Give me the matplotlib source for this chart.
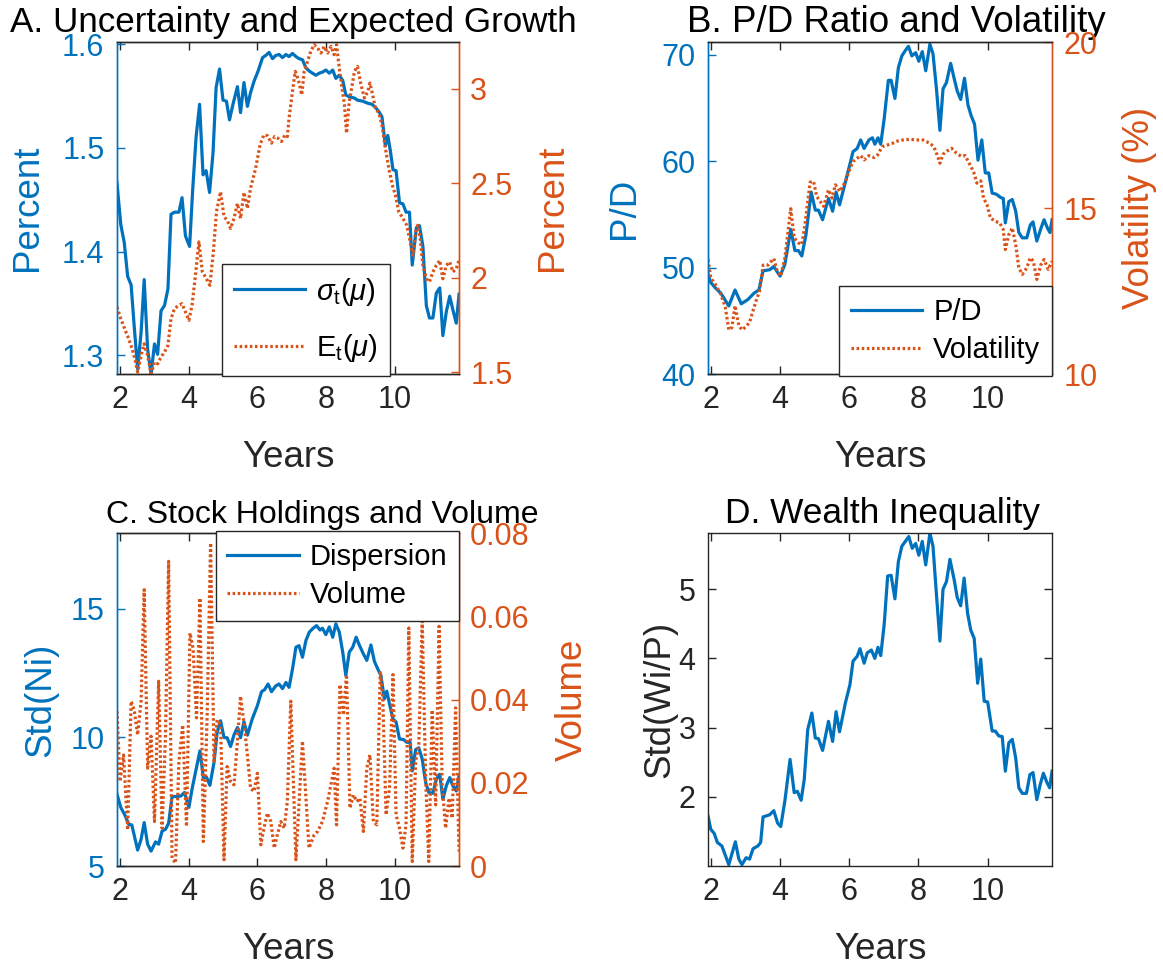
import matplotlib
matplotlib.use('Agg')
import matplotlib.pyplot as plt
from matplotlib.ticker import FuncFormatter

plt.rcParams['font.family'] = ['Liberation Sans', 'DejaVu Sans']
plt.rcParams['mathtext.fontset'] = 'custom'
plt.rcParams['mathtext.rm'] = 'Liberation Sans'
plt.rcParams['mathtext.it'] = 'Liberation Sans:italic'

BLUE = '#0072BD'
RED = '#D95319'
DARK = '#262626'
TICK = 22
LAB = 26.5

# ---- A. uncertainty (sigma) and expected growth ----
a_sig_years = [1.92, 2.03, 2.13, 2.23, 2.33, 2.42, 2.52, 2.62, 2.71, 2.81, 2.91, 3.01, 3.10, 3.20, 3.30,
               3.40, 3.49, 3.59, 3.72, 3.81, 3.91, 4.03, 4.12, 4.22, 4.32, 4.42, 4.51, 4.61, 4.71, 4.80,
               4.90, 5.00, 5.10, 5.19, 5.29, 5.42, 5.51, 5.61, 5.71, 5.80, 5.90, 6.02, 6.15, 6.24, 6.34,
               6.44, 6.53, 6.63, 6.73, 6.83, 6.92,
               7.02, 7.12, 7.21, 7.31, 7.41, 7.51, 7.60, 7.70, 7.80, 7.89, 7.99, 8.09, 8.19, 8.28, 8.38,
               8.48, 8.57, 8.69, 8.82, 8.91, 9.06, 9.21, 9.33, 9.43, 9.53, 9.62, 9.72, 9.79, 9.86, 9.94,
               10.03, 10.13, 10.23, 10.32, 10.42, 10.50, 10.62, 10.71, 10.81, 10.91, 11.00, 11.10, 11.20,
               11.30, 11.39, 11.49, 11.59, 11.68, 11.78, 11.86]
a_sigma = [1.466, 1.426, 1.409, 1.376, 1.368, 1.328, 1.287, 1.322, 1.373, 1.306, 1.282, 1.311, 1.301, 1.343,
           1.348, 1.364, 1.436, 1.438, 1.438, 1.452, 1.415, 1.405, 1.460, 1.511, 1.542, 1.474, 1.478, 1.457,
           1.495, 1.558, 1.576, 1.546, 1.545, 1.527, 1.542, 1.559, 1.534, 1.563, 1.540, 1.553, 1.564, 1.574,
           1.587, 1.589, 1.592, 1.586, 1.589, 1.590, 1.587, 1.590, 1.588,
           1.591, 1.588, 1.586, 1.585, 1.577, 1.574, 1.572, 1.570, 1.572, 1.573, 1.575, 1.572, 1.575, 1.567,
           1.570, 1.565, 1.551, 1.549, 1.548, 1.546, 1.545, 1.543, 1.542, 1.539, 1.535, 1.530, 1.502, 1.512,
           1.498, 1.479, 1.478, 1.447, 1.446, 1.438, 1.438, 1.387, 1.423, 1.425, 1.405, 1.348, 1.336, 1.336,
           1.360, 1.365, 1.319, 1.342, 1.357, 1.344, 1.331, 1.359]
a_mu_years = [1.92, 2.03, 2.16, 2.26, 2.36, 2.45, 2.52, 2.62, 2.71, 2.81, 2.91, 3.01, 3.10, 3.20, 3.30,
              3.40, 3.49, 3.59, 3.72, 3.81, 3.91, 4.01, 4.10, 4.20, 4.30, 4.40, 4.49, 4.62, 4.72, 4.81,
              4.93, 5.03, 5.12, 5.22, 5.32, 5.42, 5.51, 5.61, 5.71, 5.80, 5.95, 6.08, 6.19, 6.29, 6.41,
              6.50, 6.60, 6.70, 6.80, 6.87,
              6.92, 7.02, 7.10, 7.19, 7.29, 7.36, 7.46, 7.55, 7.65, 7.75, 7.85, 7.94, 8.04, 8.14, 8.23,
              8.30, 8.38, 8.46, 8.53, 8.59, 8.67, 8.74, 8.82, 8.91, 9.01, 9.11, 9.21, 9.27, 9.35, 9.43,
              9.53, 9.62, 9.72, 9.82, 9.92, 10.01, 10.11, 10.23, 10.34, 10.44, 10.52, 10.60, 10.66, 10.73,
              10.81, 10.91, 11.00, 11.10, 11.20, 11.30, 11.39, 11.49, 11.59, 11.68, 11.78, 11.86]
a_mu = [1.845, 1.783, 1.721, 1.677, 1.624, 1.562, 1.500, 1.588, 1.650, 1.588, 1.491, 1.553, 1.544, 1.580,
        1.606, 1.641, 1.783, 1.836, 1.854, 1.862, 1.818, 1.774, 1.854, 2.012, 2.189, 2.031, 2.004, 1.959,
        2.136, 2.348, 2.454, 2.322, 2.304, 2.260, 2.313, 2.392, 2.313, 2.451, 2.366, 2.472, 2.578, 2.705,
        2.755, 2.751, 2.711, 2.746, 2.737, 2.720, 2.755, 2.746,
        2.843, 2.985, 3.091, 3.047, 2.967, 3.091, 3.144, 3.197, 3.232, 3.214, 3.188, 3.223, 3.188, 3.223,
        3.179, 3.232, 3.108, 3.002, 2.914, 2.764, 2.932, 3.002, 3.091, 3.117, 3.020, 2.950, 2.985, 3.029,
        2.967, 2.896, 2.870, 2.808, 2.684, 2.578, 2.490, 2.437, 2.348, 2.313, 2.277, 2.189, 2.118, 2.242,
        2.277, 2.207, 2.065, 1.994, 1.977, 2.030, 2.065, 2.091, 1.994, 2.065, 2.083, 2.030, 2.047, 2.092]

# ---- B. P/D ratio and volatility ----
b_pd_years = [1.92, 2.00, 2.13, 2.29, 2.52, 2.70, 2.88, 3.07, 3.25, 3.39, 3.51, 3.70, 3.82, 4.00, 4.14,
              4.31, 4.43, 4.53, 4.63, 4.75, 4.90, 5.02, 5.11, 5.23, 5.40, 5.52, 5.62, 5.72, 5.94, 6.11,
              6.23, 6.33, 6.43, 6.57, 6.67, 6.74, 6.83, 6.91,
              7.01, 7.13, 7.21, 7.32, 7.42, 7.52, 7.62, 7.71, 7.81, 7.92, 8.01, 8.11, 8.21, 8.33, 8.42,
              8.52, 8.62, 8.71, 8.81, 8.93, 9.03, 9.12, 9.22, 9.33, 9.43, 9.52, 9.62, 9.72, 9.83, 9.93,
              10.03, 10.13, 10.25, 10.37, 10.45, 10.51, 10.61, 10.71, 10.81, 10.90, 11.00, 11.13, 11.23,
              11.31, 11.42, 11.54, 11.63, 11.73, 11.80, 11.86]
b_pd = [49.4, 48.6, 48.1, 47.6, 46.4, 47.9, 46.6, 47.0, 47.6, 47.9, 49.7, 49.8, 50.1, 49.2, 50.3,
        53.6, 51.6, 51.6, 51.1, 53.1, 57.1, 55.4, 55.4, 54.5, 56.5, 55.3, 57.1, 55.9, 58.7, 60.9,
        61.2, 62.0, 61.2, 62.0, 62.2, 61.6, 62.2, 61.6,
        64.0, 67.6, 67.6, 65.9, 68.8, 69.9, 70.4, 70.8, 69.9, 70.2, 69.4, 70.3, 68.5, 71.0, 70.1,
        66.8, 62.9, 66.8, 67.4, 69.2, 67.8, 66.6, 65.8, 67.8, 65.3, 64.3, 63.5, 60.1, 62.0, 58.9,
        58.9, 57.0, 56.9, 56.6, 56.5, 54.2, 56.2, 56.4, 55.3, 53.3, 52.8, 52.8, 54.0, 54.3, 52.5,
        53.7, 54.5, 53.7, 53.3, 54.5]
b_vol_years = [1.92, 2.00, 2.13, 2.29, 2.42, 2.52, 2.61, 2.70, 2.81, 2.90, 3.02, 3.12, 3.22, 3.31, 3.41,
               3.51, 3.65, 3.82, 3.92, 4.02, 4.14, 4.31, 4.41, 4.53, 4.63, 4.72, 4.87, 4.97, 5.06, 5.16,
               5.26, 5.40, 5.50, 5.60, 5.73, 5.89, 5.99, 6.11, 6.23, 6.33, 6.43, 6.57, 6.72, 6.82,
               6.87, 6.96, 7.11, 7.25, 7.40, 7.55, 7.74, 7.94, 8.13, 8.33, 8.44, 8.54, 8.62, 8.71, 8.83,
               8.96, 9.10, 9.25, 9.35, 9.44, 9.59, 9.69, 9.80, 9.88, 9.98, 10.08, 10.22, 10.35, 10.45,
               10.51, 10.61, 10.71, 10.81, 10.90, 11.00, 11.13, 11.23, 11.32, 11.42, 11.54, 11.63, 11.75,
               11.86]
b_vol = [13.45, 12.90, 12.70, 12.40, 12.01, 11.33, 11.40, 12.06, 11.46, 11.33, 11.43, 11.56, 11.91, 12.21,
         12.50, 13.28, 13.28, 13.48, 13.10, 12.95, 13.50, 14.98, 14.10, 13.95, 13.90, 14.50, 15.78, 15.80,
         15.35, 15.20, 15.05, 15.55, 15.30, 15.70, 15.50, 15.80, 16.10, 16.40, 16.50, 16.58, 16.45, 16.58,
         16.52, 16.60,
         16.70, 16.85, 16.90, 16.95, 17.02, 17.05, 17.07, 17.05, 17.05, 16.95, 16.85, 16.60, 16.35, 16.62,
         16.72, 16.80, 16.65, 16.55, 16.58, 16.40, 16.10, 15.75, 15.82, 15.30, 15.10, 14.70, 14.60, 14.55,
         14.35, 13.75, 14.20, 14.40, 13.90, 13.20, 13.00, 13.20, 13.50, 13.40, 12.85, 13.30, 13.45, 13.15,
         13.40]

# ---- C. stock holdings dispersion and volume ----
c_disp_years = [1.92, 2.03, 2.16, 2.26, 2.35, 2.52, 2.62, 2.71, 2.81, 2.91, 3.04, 3.13, 3.23, 3.33, 3.42,
                3.52, 3.67, 3.78, 3.88, 4.01, 4.10, 4.22, 4.33, 4.43, 4.52, 4.62, 4.74, 4.83, 4.93, 5.03,
                5.12, 5.22, 5.32, 5.42, 5.51, 5.61, 5.71, 5.85, 6.00, 6.12, 6.21, 6.31, 6.41, 6.53, 6.63,
                6.73, 6.83, 6.92,
                7.02, 7.12, 7.21, 7.31, 7.41, 7.51, 7.62, 7.72, 7.82, 7.89, 7.99, 8.09, 8.19, 8.28, 8.38,
                8.48, 8.57, 8.67, 8.77, 8.87, 8.96, 9.08, 9.18, 9.30, 9.40, 9.50, 9.59, 9.69, 9.76, 9.84,
                9.94, 10.03, 10.13, 10.25, 10.34, 10.44, 10.50, 10.60, 10.69, 10.79, 10.89, 10.98, 11.10,
                11.20, 11.30, 11.39, 11.49, 11.59, 11.68, 11.78, 11.86]
c_disp = [7.79, 7.28, 6.95, 6.62, 6.60, 5.62, 6.04, 6.69, 5.85, 5.58, 5.94, 5.85, 6.36, 6.43, 6.66,
          7.70, 7.70, 7.73, 7.86, 7.28, 7.99, 8.77, 9.48, 8.44, 8.46, 8.14, 9.03, 10.20, 10.65, 10.00,
          9.99, 9.65, 10.10, 10.39, 9.99, 10.61, 10.09, 10.72, 11.24, 11.78, 11.86, 12.08, 11.78, 12.00,
          12.08, 11.90, 12.14, 11.95,
          12.66, 13.51, 13.57, 13.12, 13.77, 14.10, 14.25, 14.35, 14.18, 14.25, 14.00, 14.30, 13.90, 14.42,
          14.10, 13.32, 12.41, 13.32, 13.51, 13.90, 13.60, 13.25, 13.00, 13.60, 12.96, 12.66, 12.41, 11.50,
          11.80, 11.30, 10.72, 10.60, 9.94, 9.92, 9.81, 9.81, 8.70, 9.53, 9.60, 9.16, 8.25, 7.86, 7.83,
          8.38, 8.57, 7.60, 8.12, 8.44, 8.12, 7.92, 8.51]
c_vol_years = [1.92, 2.01, 2.11, 2.23, 2.33, 2.42, 2.52, 2.62, 2.71, 2.81, 2.91, 3.01, 3.13, 3.23, 3.33,
               3.42, 3.52, 3.62, 3.72, 3.83, 3.94, 4.04, 4.13, 4.23, 4.33, 4.43, 4.54, 4.64, 4.74, 4.83,
               4.93, 5.03, 5.12, 5.22, 5.32, 5.42, 5.51, 5.61, 5.71, 5.80, 5.90, 6.00, 6.10, 6.19, 6.29,
               6.39, 6.49, 6.58, 6.68, 6.78, 6.87,
               6.97, 7.12, 7.31, 7.50, 7.65, 7.75, 7.89, 8.04, 8.23, 8.30, 8.40, 8.50, 8.59, 8.69, 8.79,
               8.89, 8.98, 9.08, 9.18, 9.27, 9.37, 9.47, 9.57, 9.64, 9.74, 9.84, 9.94, 10.03, 10.13, 10.23,
               10.32, 10.40, 10.50, 10.60, 10.69, 10.79, 10.89, 10.98, 11.08, 11.18, 11.28, 11.37, 11.47,
               11.57, 11.66, 11.76, 11.86]
c_volume = [0.0372, 0.0203, 0.0267, 0.0087, 0.0396, 0.0375, 0.0315, 0.0396, 0.0664, 0.0235, 0.0312, 0.0107,
            0.0444, 0.0091, 0.0315, 0.0732, 0.0019, 0.0007, 0.0252, 0.0339, 0.0095, 0.0560, 0.0524, 0.0356,
            0.0644, 0.0059, 0.0363, 0.0776, 0.0252, 0.0351, 0.0339, 0.0015, 0.0239, 0.0203, 0.0195, 0.0300,
            0.0408, 0.0344, 0.0267, 0.0187, 0.0179, 0.0223, 0.0051, 0.0091, 0.0127, 0.0107, 0.0043, 0.0075,
            0.0107, 0.0091, 0.0155,
            0.0396, 0.0015, 0.0300, 0.0043, 0.0075, 0.0083, 0.0107, 0.0155, 0.0235, 0.0099, 0.0436, 0.0363,
            0.0460, 0.0139, 0.0171, 0.0155, 0.0163, 0.0083, 0.0235, 0.0267, 0.0107, 0.0099, 0.0468, 0.0412,
            0.0123, 0.0187, 0.0460, 0.0123, 0.0091, 0.0043, 0.0099, 0.0572, 0.0011, 0.0252, 0.0292, 0.0588,
            0.0211, 0.0011, 0.0375, 0.0147, 0.0576, 0.0195, 0.0091, 0.0163, 0.0115, 0.0380, 0.0035]

# ---- D. wealth inequality ----
d_years = [1.92, 2.00, 2.10, 2.19, 2.32, 2.52, 2.71, 2.81, 2.90, 3.02, 3.12, 3.22, 3.36, 3.44, 3.51,
           3.70, 3.82, 3.93, 4.02, 4.14, 4.29, 4.41, 4.50, 4.61, 4.70, 4.80, 4.92, 5.02, 5.11, 5.23,
           5.40, 5.52, 5.62, 5.72, 5.89, 6.02, 6.11, 6.23, 6.31, 6.43, 6.52, 6.64, 6.74, 6.83, 6.91,
           7.01, 7.11, 7.21, 7.32, 7.42, 7.52, 7.62, 7.72, 7.82, 7.92, 8.01, 8.11, 8.21, 8.33, 8.42,
           8.52, 8.62, 8.71, 8.81, 8.91, 9.03, 9.12, 9.22, 9.32, 9.42, 9.51, 9.61, 9.71, 9.80, 9.90,
           10.00, 10.13, 10.22, 10.32, 10.42, 10.51, 10.61, 10.71, 10.81, 10.90, 11.00, 11.12, 11.22,
           11.31, 11.42, 11.52, 11.61, 11.71, 11.79, 11.86]
d_wealth = [1.72, 1.53, 1.47, 1.34, 1.29, 1.02, 1.35, 1.10, 1.02, 1.12, 1.10, 1.25, 1.29, 1.34, 1.71,
            1.74, 1.80, 1.62, 1.57, 1.94, 2.54, 2.06, 2.08, 1.95, 2.25, 2.97, 3.21, 2.85, 2.84, 2.67,
            3.09, 2.80, 3.23, 2.94, 3.36, 3.62, 3.96, 4.03, 4.14, 3.93, 4.08, 4.12, 4.00, 4.16, 4.04,
            4.49, 5.19, 5.20, 4.86, 5.40, 5.62, 5.69, 5.76, 5.59, 5.66, 5.49, 5.69, 5.35, 5.81, 5.62,
            4.92, 4.25, 5.00, 5.11, 5.43, 5.14, 4.88, 4.76, 5.16, 4.65, 4.41, 4.29, 3.64, 3.99, 3.38,
            3.37, 2.95, 2.95, 2.88, 2.87, 2.37, 2.78, 2.83, 2.56, 2.13, 2.05, 2.05, 2.32, 2.35, 1.96,
            2.18, 2.34, 2.21, 2.13, 2.37]

x_ticks = [2, 4, 6, 8, 10]
x_range = (1.92, 11.86)

fmt = FuncFormatter(lambda v, p: '%g' % v)


def base_axes(ax, left_color):
    ax.set_xlim(*x_range)
    ax.set_xticks(x_ticks)
    ax.tick_params(axis='x', direction='in', top=True, length=6, width=1, colors=DARK,
                   labelsize=TICK, pad=8)
    ax.tick_params(axis='y', direction='in', length=6, width=1, colors=left_color,
                   labelsize=TICK, pad=9)
    ax.yaxis.set_major_formatter(fmt)
    for s in ax.spines.values():
        s.set_color(DARK)
        s.set_linewidth(1.0)
    ax.spines['left'].set_color(left_color)
    ax.set_xlabel('Years', fontsize=LAB, color=DARK, labelpad=18)


def right_axes(ax, color):
    axr = ax.twinx()
    axr.set_xlim(*x_range)
    axr.tick_params(axis='y', direction='in', length=6, width=1, colors=color,
                    labelsize=TICK, pad=8)
    axr.yaxis.set_major_formatter(fmt)
    for s in axr.spines.values():
        s.set_color(DARK)
        s.set_linewidth(1.0)
    axr.spines['left'].set_color(BLUE)
    axr.spines['right'].set_color(color)
    ax.spines['right'].set_color(color)
    return axr


def add_legend(axr, handles, labels, spacing=0.35, **kw):
    leg = axr.legend(handles, labels, fontsize=21, frameon=True, fancybox=False, edgecolor=DARK,
                     framealpha=1, handlelength=2.45, handletextpad=0.38, borderaxespad=0,
                     borderpad=0.4, labelspacing=spacing, **kw)
    leg.get_frame().set_linewidth(1.0)


fig = plt.figure(figsize=(11.63, 9.71), dpi=100)
lw = 2.3
dots = (0, (0.8, 0.8))

# A
axA = fig.add_axes([0.1006, 0.6148, 0.2941, 0.3419])
base_axes(axA, BLUE)
axAr = right_axes(axA, RED)
l1, = axA.plot(a_sig_years, a_sigma, color=BLUE, lw=lw)
l2, = axAr.plot(a_mu_years, a_mu, color=RED, lw=lw, ls=dots)
axA.set_ylim(1.282, 1.602)
axA.set_yticks([1.3, 1.4, 1.5, 1.6])
axAr.set_ylim(1.49, 3.246)
axAr.set_yticks([1.5, 2, 2.5, 3])
axA.set_ylabel('Percent', fontsize=LAB, color=BLUE, labelpad=12)
axAr.set_ylabel('Percent', fontsize=LAB, color=RED, labelpad=16)
axA.set_title('A. Uncertainty and Expected Growth', fontsize=25.2, color='black', x=0.515, pad=7)
add_legend(axAr, [l1, l2], [r'$\sigma_{\rm t}(\mu)$', r'$\mathrm{E_t}(\mu)$'], spacing=0.85,
           loc='lower left', bbox_to_anchor=(0.307, -0.006))

# B
axB = fig.add_axes([0.6088, 0.6148, 0.2958, 0.3419])
base_axes(axB, BLUE)
axBr = right_axes(axB, RED)
l1, = axB.plot(b_pd_years, b_pd, color=BLUE, lw=lw)
l2, = axBr.plot(b_vol_years, b_vol, color=RED, lw=lw, ls=dots)
axB.set_ylim(40, 71.2)
axB.set_yticks([40, 50, 60, 70])
axBr.set_ylim(10, 20)
axBr.set_yticks([10, 15, 20])
axB.set_ylabel('P/D', fontsize=LAB, color=BLUE, labelpad=14)
axBr.set_ylabel('Volatility (%)', fontsize=LAB, color=RED, labelpad=18)
axB.set_title('B. P/D Ratio and Volatility', fontsize=26.5, color='black', x=0.547, pad=7)
add_legend(axBr, [l1, l2], ['P/D', 'Volatility'], loc='lower right', bbox_to_anchor=(1.0, -0.006))

# C
axC = fig.add_axes([0.1006, 0.1081, 0.2941, 0.3429])
base_axes(axC, BLUE)
axCr = right_axes(axC, RED)
l1, = axC.plot(c_disp_years, c_disp, color=BLUE, lw=lw)
l2, = axCr.plot(c_vol_years, c_volume, color=RED, lw=lw, ls=dots)
axC.set_ylim(5, 17.95)
axC.set_yticks([5, 10, 15])
axCr.set_ylim(0, 0.08)
axCr.set_yticks([0, 0.02, 0.04, 0.06, 0.08])
axC.set_ylabel('Std(Ni)', fontsize=LAB, color=BLUE, labelpad=9)
axCr.set_ylabel('Volume', fontsize=LAB, color=RED, labelpad=18)
axC.set_title('C. Stock Holdings and Volume', fontsize=23, color='black', x=0.6, pad=7)
add_legend(axCr, [l1, l2], ['Dispersion', 'Volume'], loc='upper right', bbox_to_anchor=(1.0, 1.006))

# D
axD = fig.add_axes([0.6088, 0.1081, 0.2958, 0.3429])
base_axes(axD, DARK)
axD.tick_params(axis='y', right=True)
axD.plot(d_years, d_wealth, color=BLUE, lw=lw)
axD.set_ylim(min(d_wealth) - 0.02, max(d_wealth))
axD.set_yticks([2, 3, 4, 5])
axD.set_ylabel('Std(Wi/P)', fontsize=LAB, color=DARK, labelpad=1)
axD.set_title('D. Wealth Inequality', fontsize=25.4, color='black', x=0.506, pad=7)

fig.savefig('out.png', dpi=100)
